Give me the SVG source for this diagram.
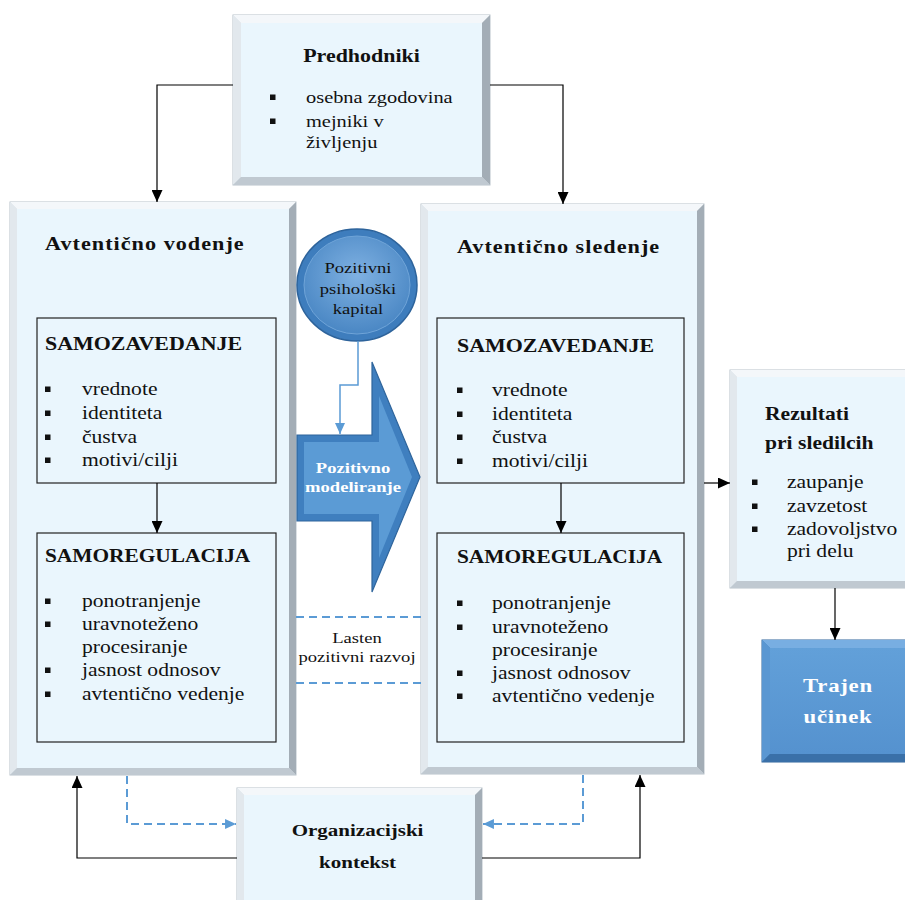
<svg xmlns="http://www.w3.org/2000/svg" width="905" height="900" viewBox="0 0 905 900">
<defs>
<marker id="ab" viewBox="0 0 12 11" refX="12" refY="5.5" markerWidth="12" markerHeight="11" markerUnits="userSpaceOnUse" orient="auto"><path d="M0,0 L12,5.5 L0,11 z" fill="#000"/></marker>
<marker id="au" viewBox="0 0 12 11" refX="12" refY="5.5" markerWidth="11" markerHeight="10" markerUnits="userSpaceOnUse" orient="auto"><path d="M0,0 L12,5.5 L0,11 z" fill="#5b9bd5"/></marker>
<radialGradient id="cg" cx="50%" cy="40%" r="60%"><stop offset="0" stop-color="#7fb1e2"/><stop offset="1" stop-color="#4a87c4"/></radialGradient>
<linearGradient id="tg" x1="0" y1="0" x2="0" y2="1"><stop offset="0" stop-color="#62a0d9"/><stop offset="1" stop-color="#5592cf"/></linearGradient>
<style>
.t{font-family:"Liberation Serif","Times New Roman",serif;fill:#111}
.b{font-weight:bold}
.h{font-size:18.3px;font-weight:bold}
.ht{font-size:18.5px;font-weight:bold;letter-spacing:0.85px}
.i{font-size:18px}
.s{font-size:15.5px}
.w{fill:#fff}
.m{text-anchor:middle}
.o{fill:#d9e0e6;stroke:#b7c1ca;stroke-width:1}
.bt{fill:#f4f7fa}
.bl{fill:#e2e8ed}
.br{fill:#a3adb6}
.bb{fill:#c0c9d1}
.in{fill:#eaf6fd}
.ib{fill:none;stroke:#222;stroke-width:1.2}
.bu{fill:#111}
.c{fill:none;stroke:#000;stroke-width:1.2}
.d{fill:none;stroke:#5b9bd5;stroke-width:2;stroke-dasharray:8 5}
</style>
</defs>
<rect width="905" height="900" fill="#fff"/>

<g id="predhodniki">
<rect class="o" x="233" y="15" width="257" height="170"/>
<polygon class="bt" points="233,15 490,15 482,23 241,23"/>
<polygon class="bl" points="233,15 241,23 241,177 233,185"/>
<polygon class="br" points="490,15 490,185 482,177 482,23"/>
<polygon class="bb" points="233,185 490,185 482,177 241,177"/>
<rect class="in" x="241" y="23" width="241" height="154"/>
<rect class="bu" x="270" y="94.5" width="5.5" height="5.5"/>
<rect class="bu" x="270" y="118.5" width="5.5" height="5.5"/>
</g>

<g id="avtenticno-vodenje">
<rect class="o" x="10" y="202" width="286" height="573"/>
<polygon class="bt" points="10,202 296,202 289,209 17,209"/>
<polygon class="bl" points="10,202 17,209 17,768 10,775"/>
<polygon class="br" points="296,202 296,775 289,768 289,209"/>
<polygon class="bb" points="10,775 296,775 289,768 17,768"/>
<rect class="in" x="17" y="209" width="272" height="559"/>
<rect class="ib" x="37" y="318" width="239" height="165"/>
<rect class="ib" x="37" y="533" width="239" height="209"/>
<rect class="bu" x="45" y="386.5" width="5.5" height="5.5"/>
<rect class="bu" x="45" y="410.5" width="5.5" height="5.5"/>
<rect class="bu" x="45" y="434.5" width="5.5" height="5.5"/>
<rect class="bu" x="45" y="457.5" width="5.5" height="5.5"/>
<rect class="bu" x="45" y="598.5" width="5.5" height="5.5"/>
<rect class="bu" x="45" y="621.5" width="5.5" height="5.5"/>
<rect class="bu" x="45" y="667.5" width="5.5" height="5.5"/>
<rect class="bu" x="45" y="691.5" width="5.5" height="5.5"/>
</g>

<g id="avtenticno-sledenje">
<rect class="o" x="421" y="204" width="283" height="570"/>
<polygon class="bt" points="421,204 704,204 697,211 428,211"/>
<polygon class="bl" points="421,204 428,211 428,767 421,774"/>
<polygon class="br" points="704,204 704,774 697,767 697,211"/>
<polygon class="bb" points="421,774 704,774 697,767 428,767"/>
<rect class="in" x="428" y="211" width="269" height="556"/>
<rect class="ib" x="437" y="318" width="247" height="165"/>
<rect class="ib" x="437" y="533" width="247" height="209"/>
<rect class="bu" x="457" y="387.5" width="5.5" height="5.5"/>
<rect class="bu" x="457" y="411.5" width="5.5" height="5.5"/>
<rect class="bu" x="457" y="434.5" width="5.5" height="5.5"/>
<rect class="bu" x="457" y="458.5" width="5.5" height="5.5"/>
<rect class="bu" x="457" y="600.5" width="5.5" height="5.5"/>
<rect class="bu" x="457" y="624.5" width="5.5" height="5.5"/>
<rect class="bu" x="457" y="670.5" width="5.5" height="5.5"/>
<rect class="bu" x="457" y="693.5" width="5.5" height="5.5"/>
</g>

<g id="kapital">
<ellipse cx="357" cy="285" rx="60" ry="56" fill="#3e7dbd" stroke="#2d639b" stroke-width="1.5"/>
<ellipse cx="357" cy="285" rx="53" ry="49" fill="url(#cg)" stroke="#6fa4d8" stroke-width="1"/>
</g>

<g id="modeliranje">
<polygon points="297,435 372,435 372,362 420,477 372,592 372,521 297,521" fill="#3f7fbf" stroke="#2f659c" stroke-width="1.2"/>
<polygon points="304,442 379,442 379,396 412,477 379,558 379,514 304,514" fill="#5b9bd5"/>
</g>

<g id="rezultati">
<rect class="o" x="730" y="370" width="185" height="218"/>
<polygon class="bt" points="730,370 915,370 908,377 737,377"/>
<polygon class="bl" points="730,370 737,377 737,581 730,588"/>
<polygon class="bb" points="730,588 915,588 908,581 737,581"/>
<rect class="in" x="737" y="377" width="178" height="204"/>
<rect class="bu" x="752" y="479.5" width="5.5" height="5.5"/>
<rect class="bu" x="752" y="503.5" width="5.5" height="5.5"/>
<rect class="bu" x="752" y="526.5" width="5.5" height="5.5"/>
</g>

<g id="trajen-ucinek">
<rect x="762" y="640" width="153" height="122" fill="#3f7dbb" stroke="#2f659c" stroke-width="1"/>
<polygon points="762,640 915,640 915,648 770,648" fill="#78aee2"/>
<polygon points="762,640 770,648 770,754 762,762" fill="#5a97d2"/>
<polygon points="762,762 915,762 915,754 770,754" fill="#3a70a8"/>
<rect x="770" y="648" width="145" height="106" fill="url(#tg)"/>
</g>

<g id="organizacijski-kontekst">
<rect class="o" x="237" y="788" width="245" height="112"/>
<polygon class="bt" points="237,788 482,788 475,795 244,795"/>
<polygon class="bl" points="237,788 244,795 244,900 237,900"/>
<polygon class="br" points="482,788 482,900 475,900 475,795"/>
<rect class="in" x="244" y="795" width="231" height="105"/>
</g>

<g id="connectors">
<path class="c" d="M233,85 H157 V202" marker-end="url(#ab)"/>
<path class="c" d="M490,85 H563 V204" marker-end="url(#ab)"/>
<path class="c" d="M157,483 V533" marker-end="url(#ab)"/>
<path class="c" d="M561,483 V533" marker-end="url(#ab)"/>
<path class="c" d="M704,483 H730" marker-end="url(#ab)"/>
<path class="c" d="M835,588 V640" marker-end="url(#ab)"/>
<path class="c" d="M237,858 H77 V776" marker-end="url(#ab)"/>
<path class="c" d="M482,858 H640 V775" marker-end="url(#ab)"/>
<path class="d" d="M127,776 V824 H236" marker-end="url(#au)"/>
<path class="d" d="M583,775 V824 H483" marker-end="url(#au)"/>
<path d="M358,341 V385 H340 V434" fill="none" stroke="#5b9bd5" stroke-width="1.5" marker-end="url(#au)"/>
<path class="d" d="M296,617 H421"/>
<path class="d" d="M296,683 H421"/>
</g>

<g id="labels" transform="scale(1.2 1)">
<text class="t h m" x="301.25" y="62">Predhodniki</text>
<text class="t i" x="255" y="103" style="font-size:17px">osebna zgodovina</text>
<text class="t i" x="255" y="127" style="font-size:17px">mejniki v</text>
<text class="t i" x="255" y="148" style="font-size:17px">življenju</text>

<text class="t ht" x="37.5" y="250">Avtentično vodenje</text>
<text class="t h" x="37.5" y="350">SAMOZAVEDANJE</text>
<text class="t i" x="68.3" y="395">vrednote</text>
<text class="t i" x="68.3" y="419">identiteta</text>
<text class="t i" x="68.3" y="443">čustva</text>
<text class="t i" x="68.3" y="466">motivi/cilji</text>
<text class="t h" x="37.5" y="562" style="font-size:17.8px">SAMOREGULACIJA</text>
<text class="t i" x="68.3" y="607">ponotranjenje</text>
<text class="t i" x="68.3" y="630">uravnoteženo</text>
<text class="t i" x="68.3" y="653">procesiranje</text>
<text class="t i" x="68.3" y="676">jasnost odnosov</text>
<text class="t i" x="68.3" y="700">avtentično vedenje</text>

<text class="t ht" x="380.8" y="253">Avtentično sledenje</text>
<text class="t h" x="380.8" y="352">SAMOZAVEDANJE</text>
<text class="t i" x="410" y="396">vrednote</text>
<text class="t i" x="410" y="420">identiteta</text>
<text class="t i" x="410" y="443">čustva</text>
<text class="t i" x="410" y="467">motivi/cilji</text>
<text class="t h" x="380.8" y="563" style="font-size:17.8px">SAMOREGULACIJA</text>
<text class="t i" x="410" y="609">ponotranjenje</text>
<text class="t i" x="410" y="633">uravnoteženo</text>
<text class="t i" x="410" y="656">procesiranje</text>
<text class="t i" x="410" y="679">jasnost odnosov</text>
<text class="t i" x="410" y="702">avtentično vedenje</text>

<text class="t s m" x="298.3" y="273">Pozitivni</text>
<text class="t s m" x="298.3" y="294">psihološki</text>
<text class="t s m" x="298.3" y="314">kapital</text>

<text class="t s b m w" x="294.2" y="473">Pozitivno</text>
<text class="t s b m w" x="294.2" y="492">modeliranje</text>

<text class="t s m" x="297.5" y="643">Lasten</text>
<text class="t s m" x="297.5" y="662">pozitivni razvoj</text>

<text class="t h" x="637.5" y="420" style="font-size:18px">Rezultati</text>
<text class="t h" x="637.5" y="449" style="font-size:18px">pri sledilcih</text>
<text class="t i" x="655.8" y="488">zaupanje</text>
<text class="t i" x="655.8" y="512">zavzetost</text>
<text class="t i" x="655.8" y="535">zadovoljstvo</text>
<text class="t i" x="655.8" y="557">pri delu</text>

<text class="t b m w" x="698.3" y="692" style="font-size:19px;letter-spacing:0.6px">Trajen</text>
<text class="t b m w" x="698.3" y="723" style="font-size:19px;letter-spacing:0.6px">učinek</text>

<text class="t b m" x="298" y="836" style="font-size:17.5px">Organizacijski</text>
<text class="t b m" x="298" y="868" style="font-size:17.5px">kontekst</text>
</g>
</svg>
